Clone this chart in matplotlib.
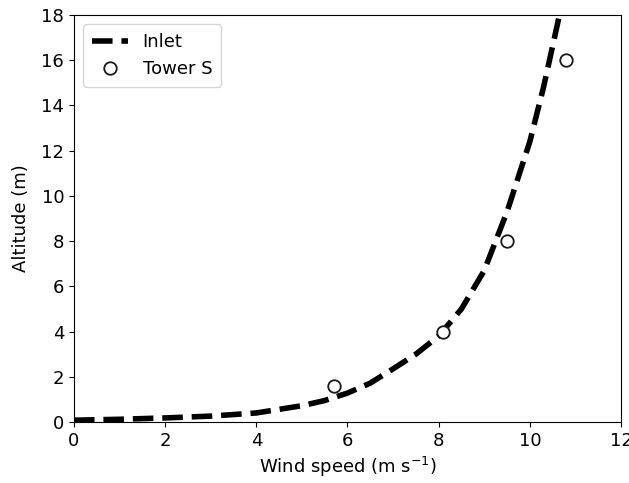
import numpy as np
import matplotlib

matplotlib.use("Agg")
import matplotlib.pyplot as plt

# inlet wind profile (speed in m/s, altitude in m)
inlet_speed = [0, 1, 2, 3, 4, 5, 5.5, 6, 6.5, 7, 7.5, 8, 8.5, 9, 9.5, 10, 10.3, 10.65]
inlet_alt = [0.08, 0.12, 0.18, 0.26, 0.40, 0.72, 0.95, 1.28, 1.72, 2.35, 3.0, 3.8,
             5.0, 6.7, 9.3, 12.4, 14.8, 18.0]

# tower measurements
tower_speed = [5.7, 8.1, 9.5, 10.8]
tower_alt = [1.6, 4.0, 8.0, 16.0]

plt.rcParams["font.size"] = 13

fig = plt.figure(figsize=(6.29, 4.83), dpi=100)
ax = fig.add_axes([0.1176, 0.1263, 0.8697, 0.8427])

ax.plot(inlet_speed, inlet_alt, "k--", lw=4, label="Inlet")
ax.plot(tower_speed, tower_alt, "o", ls="none", ms=9, mfc="white",
        mec="#1a1a1a", mew=1.3, label="Tower S", zorder=3)

ax.set_xlim(0, 12)
ax.set_ylim(0, 18)
ax.set_xticks(np.arange(0, 13, 2))
ax.set_yticks(np.arange(0, 19, 2))
ax.set_xlabel("Wind speed (m s$^{-1}$)")
ax.set_ylabel("Altitude (m)", labelpad=8)
ax.legend(loc="upper left", numpoints=1, borderpad=0.5)

fig.savefig("out.png", dpi=100)
